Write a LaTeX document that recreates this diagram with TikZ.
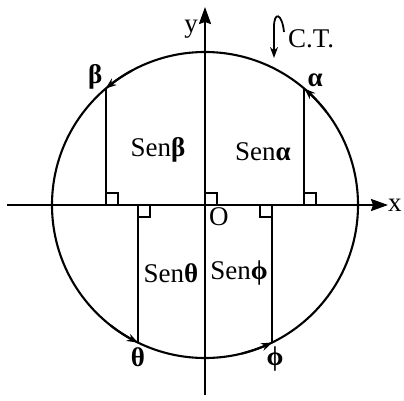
\documentclass[tikz,border=0pt]{standalone}
\usepackage{fontspec}
\setmainfont{Liberation Serif}
\usetikzlibrary{positioning, arrows.meta, bending}

\begin{document}
\begin{tikzpicture}[
	x=1pt, y=1pt,
	axis/.style={-{Stealth[length=17pt, width=12pt, inset=2pt]}, line width=2.2pt},
	line/.style={line width=2.1pt},
	arc tip/.style={-{Stealth[length=11pt, width=8pt, bend]}, line width=2.1pt},
	rightangle/.style={line width=1.9pt},
	lbl/.style={inner sep=1pt},
	font=\fontsize{27}{32}\selectfont
	]

	\useasboundingbox (-205,-195) rectangle (199,205);

	\coordinate (O) at (0,0);
	\coordinate (A) at (49.5:153);
	\coordinate (B) at (130.5:153);
	\coordinate (T) at (244:153);
	\coordinate (F) at (296:153);
	\coordinate (Af) at (A |- O);
	\coordinate (Bf) at (B |- O);
	\coordinate (Tf) at (T |- O);
	\coordinate (Ff) at (F |- O);

	% circle and axes
	\draw[line] (O) circle (153);
	\coordinate (xl) at (-198,0);
	\coordinate (xr) at (183,0);
	\coordinate (yb) at (0,-190);
	\coordinate (yt) at (0,198);
	\draw[axis] (xl) -- (xr);
	\draw[axis] (yb) -- (yt);
	\node[lbl, right=0pt of xr, inner sep=0pt] (xlab) {x};
	\node[lbl, left=6pt of yt, yshift=-22pt] (ylab) {y};
	\node[lbl, below right=1pt and 3pt of O] (olab) {O};

	% counterclockwise arrows on the circle
	\draw[arc tip] (37.5:153) arc[start angle=37.5, end angle=49.5, radius=153];
	\draw[arc tip] (118.5:153) arc[start angle=118.5, end angle=130.5, radius=153];
	\draw[arc tip] (232:153) arc[start angle=232, end angle=244, radius=153];
	\draw[arc tip] (284:153) arc[start angle=284, end angle=296, radius=153];

	% sines
	\draw[line] (Af) -- (A);
	\draw[line] (Bf) -- (B);
	\draw[line] (Tf) -- (T);
	\draw[line] (Ff) -- (F);

	% right angles
	\draw[rightangle] (Af) rectangle ++(12,12);
	\draw[rightangle] (Bf) rectangle ++(12,12);
	\draw[rightangle] (O) rectangle ++(12,12);
	\draw[rightangle] (Tf) rectangle ++(12,-12);
	\draw[rightangle] (Ff) rectangle ++(-12,-12);

	% angle labels
	\node[lbl, above right=1pt and 2pt of A] (alab) {\textbf{α}};
	\node[lbl, above left=-2pt and 2pt of B] (blab) {\textbf{β}};
	\node[lbl, below=4pt of T] (tlab) {\textbf{θ}};
	\node[lbl, below=3pt of F, xshift=3pt] (flab) {\textbf{ϕ}};

	\node[lbl] (sa) at (58,53) {Sen\textbf{α}};
	\node[lbl] (sb) at (-47,55) {Sen\textbf{β}};
	\node[lbl] (st) at (-34,-68) {Sen\textbf{θ}};
	\node[lbl] (sf) at (34,-68) {Sen\textbf{ϕ}};

	% sense of rotation
	\coordinate (h1) at (79,173);
	\coordinate (h2) at (69,147);
	\draw[-{Stealth[length=11pt, width=8pt]}, line width=1.8pt] (h1) .. controls (77,192) and (69,194) .. (69,178) -- (h2);
	\node[lbl, right=3pt of h1, yshift=-7pt] (ct) {C.T.};

\end{tikzpicture}
\end{document}
